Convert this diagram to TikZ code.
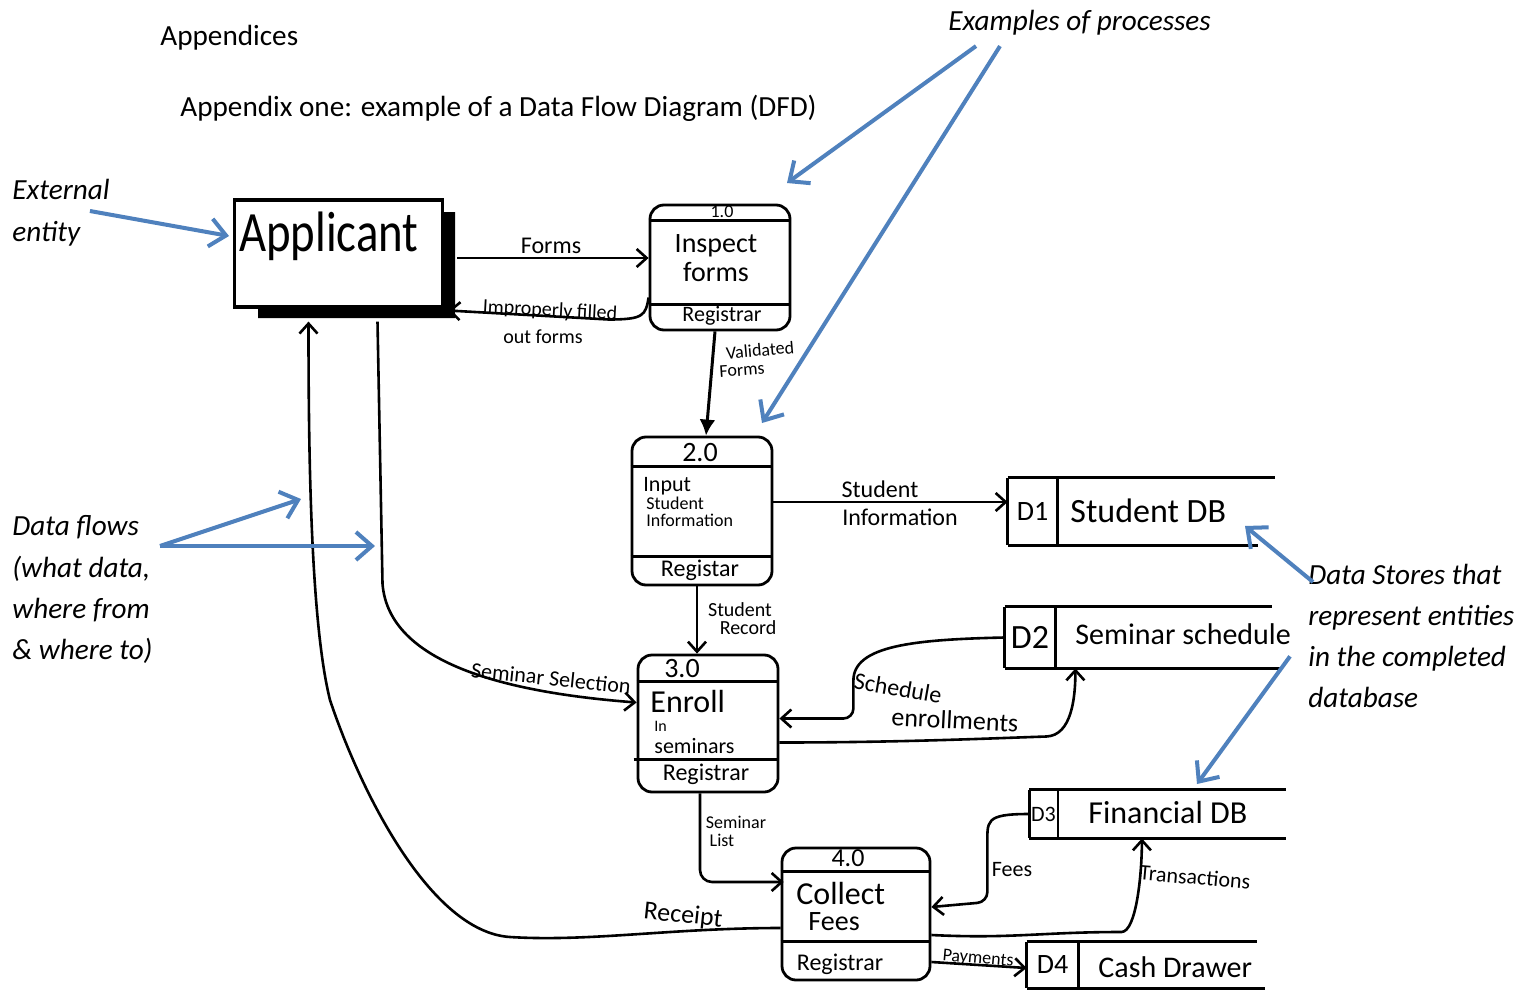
\documentclass[tikz,border=0pt]{standalone}
\usepackage{fontspec}
\setmainfont{Carlito}
\usetikzlibrary{arrows.meta,calc}
\definecolor{noteblue}{RGB}{79,129,189}
\tikzset{
  hw/.style={font=\fontsize{#1}{#1}\selectfont, inner sep=0pt},
  typed/.style={font=\fontsize{14.6}{17.5}\selectfont, inner sep=0pt, anchor=base west},
  typedit/.style={typed, font=\fontsize{14.6}{17.5}\selectfont\itshape},
  proc/.style={draw, line width=1.4pt, rounded corners=7pt, inner sep=0pt},
  pline/.style={line width=1.4pt},
  sid/.style={inner sep=0pt},
  flow/.style={line width=1.3pt, -{Straight Barb[length=5pt,width=9pt,line width=1.3pt]}},
  bigflow/.style={line width=1.5pt, -{Latex[length=8pt,width=8pt]}},
  note/.style={draw=noteblue, line width=2pt, -{Straight Barb[length=8pt,width=14pt,line width=2pt]}},
}
\begin{document}
\begin{tikzpicture}[x=0.5pt,y=-0.5pt]
\useasboundingbox[fill=white] (0,0) rectangle (1531,990);

% ---------- typed headings and annotations ----------
\node[typed] (hA) at (160,46) {Appendices};
\node[typed] (hB) at (180,117) {Appendix one: example of a Data Flow Diagram (DFD)};
\node[typedit] (nProc) at (948,31) {Examples of processes};
\node[typedit] (nExt1) at (12,199) {External};
\node[typedit] (nExt2) at (12,241) {entity};
\node[typedit] (nDF1) at (12,535) {Data flows};
\node[typedit] (nDF2) at (12,577) {(what data,};
\node[typedit] (nDF3) at (12,618) {where from};
\node[typedit] (nDF4) at (12,659) {\& where to)};
\node[typedit] (nDS1) at (1308,584) {Data Stores that};
\node[typedit] (nDS2) at (1308,625) {represent entities};
\node[typedit] (nDS3) at (1308,666) {in the completed};
\node[typedit] (nDS4) at (1308,707) {database};

% ---------- external entity ----------
\fill (442,212) -- (455,212) -- (455,318) -- (258,318) -- (258,307) -- (442,307) -- cycle;
\node[draw, line width=1.6pt, minimum width=104pt, minimum height=53.5pt, inner sep=0pt] (app) at (338.5,253.5) {};
\node[hw=30] (appT) at (329,236) {\scalebox{0.78}[0.95]{Applicant}};

% ---------- processes ----------
\node[proc, minimum width=70pt, minimum height=62.5pt] (p1) at (720,267.5) {};
\draw[pline] ($(p1.north west)+(0,17)$) -- ($(p1.north east)+(0,17)$);
\draw[pline] ($(p1.south west)+(0,-27)$) -- ($(p1.south east)+(0,-27)$);
\node[hw=9] (p1n) at (722,212) {1.0};
\node[hw=14] (p1a) at (716,246) {Inspect};
\node[hw=14] (p1b) at (716,272) {forms};
\node[hw=11] (p1c) at (722,316) {Registrar};

\node[proc, minimum width=70pt, minimum height=74pt] (p2) at (702,511) {};
\draw[pline] ($(p2.north west)+(0,31)$) -- ($(p2.north east)+(0,31)$);
\draw[pline] ($(p2.south west)+(0,-30)$) -- ($(p2.south east)+(0,-30)$);
\node[hw=14] (p2n) at (700,453) {2.0};
\node[hw=11, anchor=west] (p2a) at (643,486) {Input};
\node[hw=9, anchor=west] (p2b) at (646,503) {Student};
\node[hw=9, anchor=west] (p2c) at (646,520) {Information};
\node[hw=12] (p2d) at (700,570) {Registar};

\node[proc, minimum width=70pt, minimum height=68.5pt] (p3) at (708,723.5) {};
\draw[pline] ($(p3.north west)+(0,28)$) -- ($(p3.north east)+(0,28)$);
\draw[pline] ($(p3.south west)+(-3,-34)$) -- ($(p3.south east)+(0,-34)$);
\node[hw=14] (p3n) at (682,669) {3.0};
\node[hw=16, anchor=west] (p3a) at (650,701) {Enroll};
\node[hw=8, anchor=west] (p3b) at (654,726) {In};
\node[hw=11, anchor=west] (p3c) at (654,746) {seminars};
\node[hw=12] (p3d) at (706,774) {Registrar};

\node[proc, minimum width=74pt, minimum height=66pt] (p4) at (856,914) {};
\draw[pline] ($(p4.north west)+(0,25)$) -- ($(p4.north east)+(0,25)$);
\draw[pline] ($(p4.south west)+(0,-40)$) -- ($(p4.south east)+(0,-40)$);
\node[hw=13] (p4n) at (848,858) {4.0};
\node[hw=16, anchor=west] (p4a) at (796,893) {Collect};
\node[hw=14, anchor=west] (p4b) at (808,922) {Fees};
\node[hw=12] (p4c) at (840,964) {Registrar};

% ---------- data stores ----------
\node[sid, minimum width=24.5pt, minimum height=33.5pt, hw=14] (d1) at (1032.5,511.5) {D1};
\draw[pline] (d1.north west) -- (d1.south west) (d1.north east) -- (d1.south east);
\draw[pline] (d1.north west) -- ++(267,0);
\draw[pline] (d1.south west) -- ++(250,0);
\node[hw=17, anchor=west] (d1t) at (1070,511) {Student DB};

\node[sid, minimum width=25pt, minimum height=30.5pt, hw=17] (d2) at (1030,637.5) {D2};
\draw[pline] (d2.north west) -- (d2.south west) (d2.north east) -- (d2.south east);
\draw[pline] (d2.north west) -- ++(267,0);
\draw[pline] (d2.south west) -- ++(275,0);
\node[hw=15, anchor=west] (d2t) at (1075,634) {Seminar schedule};

\node[sid, minimum width=14pt, minimum height=24pt, hw=11] (d3) at (1043.5,814) {D3};
\draw[pline] (d3.north west) -- (d3.south west) (d3.north east) -- (d3.south east);
\draw[pline] (d3.north west) -- ++(257,0);
\draw[pline] (d3.south west) -- ++(257,0);
\node[hw=16, anchor=west] (d3t) at (1088,812) {Financial DB};

\node[sid, minimum width=25.5pt, minimum height=23pt, hw=14] (d4) at (1052.5,965) {D4};
\draw[pline] (d4.north west) -- (d4.south west) (d4.north east) -- (d4.south east);
\draw[pline] (d4.north west) -- ++(230,0);
\draw[pline] (d4.south west) -- ++(238,0);
\node[hw=15, anchor=west] (d4t) at (1098,967) {Cash Drawer};

% ---------- data flows ----------
\draw[flow] ($(app.east)+(13,4.5)$) -- ($(p1.west)+(0,-9.5)$);
\node[hw=12] (lForms) at (551,246) {Forms};

\draw[flow] ($(p1.west)+(0,30)$) .. controls +(-3,18) and +(35,0) .. ($(p1.west)+(-40,52)$) -- ($(app.east)+(4,57)$);
\node[hw=10, rotate=-3] (lImp1) at (550,311) {Improperly filled};
\node[hw=10] (lImp2) at (543,337) {out forms};

\draw[bigflow] ($(p1.south)+(-5,0)$) -- ($(p2.north)+(4,0)$);
\node[hw=9, rotate=5] (lVal1) at (760,350) {Validated};
\node[hw=9, rotate=4] (lVal2) at (742,370) {Forms};

\draw[flow] ($(p2.east)+(0,-9)$) -- ($(d1.west)+(0,-9.5)$);
\node[hw=12] (lSI1) at (880,489) {Student};
\node[hw=12] (lSI2) at (900,517) {Information};

\draw[flow] ($(p2.south)+(-5,0)$) -- ($(p3.north)+(-11,0)$);
\node[hw=10] (lSR1) at (740,610) {Student};
\node[hw=10] (lSR2) at (748,628) {Record};

\draw[flow] ($(app.south)+(39,13)$) -- ++(5,262) .. controls +(6,80) and +(-130,-10) .. ($(p3.west)+(0,-21)$);
\node[hw=11, rotate=-6] (lSS) at (551,678) {Seminar Selection};

\draw[flow, rounded corners=5pt] (d2.west) .. controls +(-90,2) and +(0,-45) .. ($(p3.east)+(74,-33)$) -- ($(p3.east)+(74,-5)$) -- ($(p3.east)+(0,-5)$);
\node[hw=12, rotate=-10] (lSch) at (898,688) {Schedule};

\draw[flow] ($(p3.east)+(0,19)$) .. controls +(120,0) and +(-60,2) .. ($(p3.east)+(267,13)$) .. controls +(25,-1) and +(0,30) .. ($(d2.south east)+(20,0)$);
\node[hw=13, rotate=-3] (lEn) at (955,720) {enrollments};

\draw[flow, rounded corners=6pt] ($(p3.south)+(-8,0)$) |- ($(p4.west)+(3,-32)$);
\node[hw=9] (lSL1) at (736,822) {Seminar};
\node[hw=9] (lSL2) at (722,840) {List};

\draw[flow, rounded corners=5pt] (d3.west) .. controls +(-45,0) and +(0,-35) .. ($(p4.east)+(56,-58)$) -- ($(p4.east)+(56,-12)$) -- ($(p4.east)+(0,-7)$);
\node[hw=11] (lFees) at (1012,870) {Fees};

\draw[flow] ($(p4.east)+(0,21)$) .. controls +(80,4) and +(-80,0) .. ($(p4.east)+(190,18)$) .. controls +(15,0) and +(0,35) .. ($(d3.south east)+(84,0)$);
\node[hw=11, rotate=-5] (lTr) at (1195,877) {Transactions};

\draw[flow] ($(p4.east)+(0,48)$) -- ($(d4.west)+(0,3)$);
\node[hw=9, rotate=-5] (lPay) at (978,959) {Payments};

\draw[flow] ($(p4.west)+(0,14)$) .. controls +(-110,0) and +(80,5) .. (510,937) .. controls +(-80,-5) and +(30,90) .. (330,700) .. controls +(-20,-80) and +(0,120) .. ($(app.south)+(-30,13)$);
\node[hw=13, rotate=-6] (lRec) at (683,916) {Receipt};

% ---------- annotation arrows ----------
\coordinate (sDF) at (160,546);
\coordinate (aExt) at (229,236);
\coordinate (aP1) at (787,183);
\coordinate (aP2) at (762,423);
\coordinate (aDF1) at (301,499);
\coordinate (aDF2) at (375,546);
\coordinate (aDS1) at (1245,526);
\coordinate (aDS2) at (1197,784);
\draw[note] ($(nExt1.base east)+(-20,12)$) -- (aExt);
\draw[note] ($(nProc.south west)+(28,10)$) -- (aP1);
\draw[note] ($(nProc.south west)+(52,10)$) -- (aP2);
\draw[note] (sDF) -- (aDF1);
\draw[note] (sDF) -- (aDF2);
\draw[note] ($(nDS1.west)+(5,8)$) -- (aDS1);
\draw[note] ($(nDS4.north west)+(-18,-30)$) -- (aDS2);
\end{tikzpicture}
\end{document}
